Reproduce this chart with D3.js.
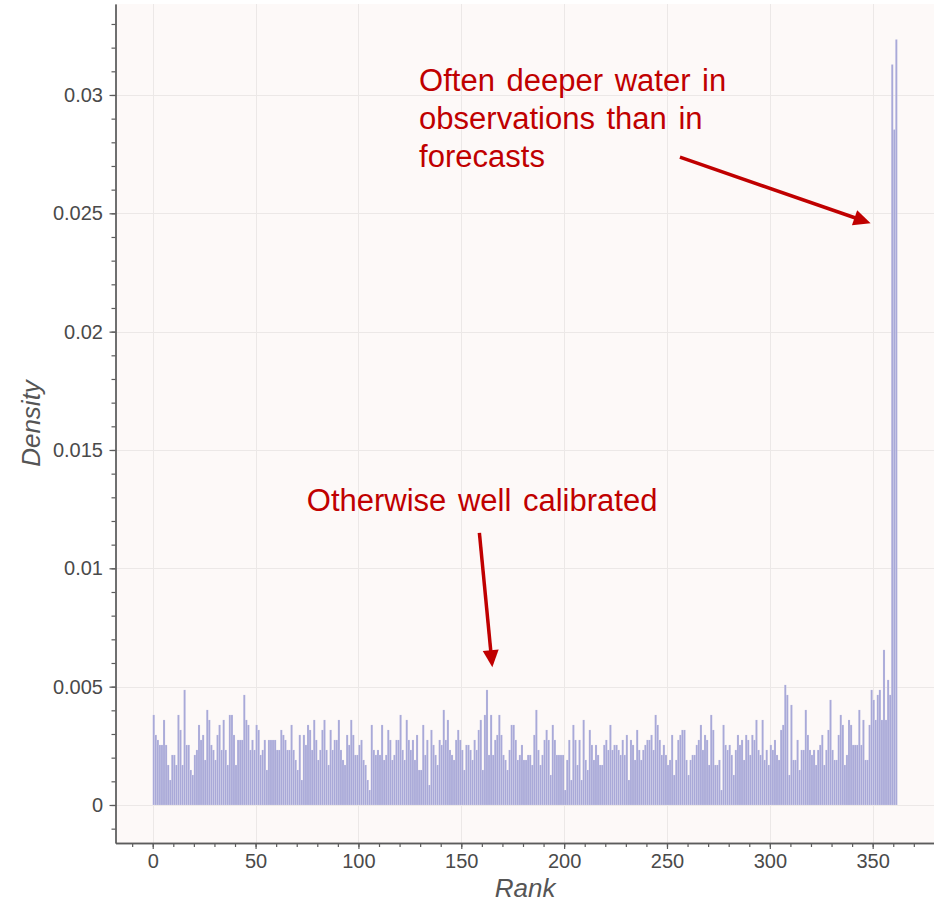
<!DOCTYPE html>
<html>
<head>
<meta charset="utf-8">
<script src="https://cdn.jsdelivr.net/npm/d3@7"></script>
<style>
  html, body { margin: 0; padding: 0; background: #ffffff; }
  svg { display: block; }
  text { font-family: "Liberation Sans", Arial, Helvetica, sans-serif; }
</style>
</head>
<body>
<svg id="chart" width="934" height="905"></svg>
<script>
// Rank histogram: number of cases whose observation falls at each rank
// among the ensemble members (ranks 0..361), normalised to a density.
const sampleSize = 4730;

const rankCounts = [
  18,14,13,12,12,17,12,8,5,10,      // 0-9
  10,8,18,15,8,23,12,12,7,6,        // 10-19
  10,11,16,13,14,9,19,17,12,11,     // 20-29
  9,14,16,11,17,11,8,18,18,14,      // 30-39
  8,13,13,13,22,17,16,11,13,11,     // 40-49
  16,15,10,11,13,7,13,13,13,13,     // 50-59
  11,11,15,14,13,11,11,16,11,9,     // 60-69
  7,14,5,14,12,16,15,11,17,13,      // 70-79
  9,11,15,17,11,8,15,11,13,13,      // 80-89
  17,11,9,8,14,12,17,14,10,10,      // 90-99
  12,13,9,8,5,3,16,11,10,11,        // 100-109
  10,16,9,10,15,13,9,10,13,13,      // 110-119
  18,11,9,17,13,11,13,9,14,7,       // 120-129
  7,16,10,13,4,15,12,10,8,13,       // 130-139
  12,19,13,17,11,10,9,13,15,13,     // 140-149
  11,7,12,12,11,9,13,11,15,17,      // 150-159
  7,18,23,10,18,10,13,14,18,14,     // 160-169
  10,9,7,11,16,16,13,9,10,12,       // 170-179
  9,9,10,10,8,14,19,11,8,10,        // 180-189
  13,15,13,6,16,13,10,10,10,10,     // 190-199
  3,9,13,5,16,13,8,13,5,17,         // 200-209
  9,7,15,12,9,12,10,8,8,12,         // 210-219
  13,11,16,11,12,12,11,10,13,10,    // 220-229
  14,5,13,12,9,15,11,9,11,12,       // 230-239
  13,13,14,11,18,16,13,10,12,10,    // 240-249
  8,9,14,6,9,13,14,15,15,9,         // 250-259
  6,9,10,10,12,13,16,11,14,13,      // 260-269
  8,18,15,8,8,9,3,16,12,11,         // 270-279
  12,10,6,11,14,12,13,9,14,13,      // 280-289
  10,14,13,17,11,10,17,9,11,8,      // 290-299
  12,11,13,10,9,15,16,24,22,6,      // 300-309
  20,9,9,13,7,11,11,19,14,11,       // 310-319
  10,11,8,11,12,14,8,11,15,21,      // 320-329
  11,9,9,14,18,16,8,10,17,16,       // 330-339
  12,12,12,19,12,17,9,9,16,23,      // 340-349
  21,17,22,23,17,31,17,25,22,148,   // 350-359
  135,153                           // 360-361
];

const xTickValues = [0, 50, 100, 150, 200, 250, 300, 350];
const xMinorTicks = d3.range(-10, 380, 10);
const yTickValues = [0, 0.005, 0.01, 0.015, 0.02, 0.025, 0.03];
const yTickLabels = ["0", "0.005", "0.01", "0.015", "0.02", "0.025", "0.03"];
const yMinorTicks = d3.range(-1, 34).map(k => k / 1000);

const xTitle = "Rank";
const yTitle = "Density";

// Annotations anchored in data space: text lines and an arrow (from -> to)
const noteUpper = {
  lines: ["Often deeper water in", "observations than in", "forecasts"],
  at: [129.5, 0.03018],
  arrowFrom: [256.3, 0.02737],
  arrowTo: [349.0, 0.02458]
};
const noteLower = {
  lines: ["Otherwise well calibrated"],
  at: [74.9, 0.01242],
  arrowFrom: [158.8, 0.01150],
  arrowTo: [165.1, 0.00582]
};

const svg = d3.select("#chart");

const frame = { left: 115.5, right: 934.6, top: 4, bottom: 843 };

const x = d3.scaleLinear().domain([-18.1, 380.1]).range([frame.left, frame.right]);
const y = d3.scaleLinear().domain([-0.001606, 0.033844]).range([frame.bottom, frame.top]);

const density = rankCounts.map((c, i) => ({ rank: i, value: c / sampleSize }));

// plot background
svg.append("rect")
  .attr("x", frame.left).attr("y", frame.top)
  .attr("width", 934 - frame.left).attr("height", frame.bottom - frame.top)
  .attr("fill", "#fdf9f8");

// grid
const grid = svg.append("g").attr("stroke", "#ece8e7").attr("stroke-width", 1);
grid.selectAll("line.gx").data(xTickValues).join("line")
  .attr("x1", d => Math.round(x(d)) + 0.5).attr("x2", d => Math.round(x(d)) + 0.5)
  .attr("y1", frame.top).attr("y2", frame.bottom);
grid.selectAll("line.gy").data(yTickValues).join("line")
  .attr("y1", d => Math.round(y(d)) + 0.5).attr("y2", d => Math.round(y(d)) + 0.5)
  .attr("x1", frame.left).attr("x2", 934);

// bars
svg.append("g").selectAll("rect").data(density).join("rect")
  .attr("x", d => x(d.rank))
  .attr("width", d => x(d.rank + 1) - x(d.rank))
  .attr("y", d => y(d.value))
  .attr("height", d => y(0) - y(d.value))
  .attr("fill", "#a9a9d8")
  .attr("stroke", "#ffffff")
  .attr("stroke-opacity", 0.35)
  .attr("stroke-width", 0.4);

// axes
const axisColor = "#5c5c5c";
const labelColor = "#4a4a4a";

function styleAxis(g) {
  g.selectAll("path.domain").attr("stroke", axisColor).attr("stroke-width", 1.3);
  g.selectAll(".tick line").attr("stroke", axisColor).attr("stroke-width", 1.2);
  g.selectAll(".tick text").attr("fill", labelColor)
    .style("font-family", '"Liberation Sans", Arial, sans-serif')
    .style("font-size", "20px");
}

// minor ticks first
svg.append("g")
  .attr("transform", `translate(0,${frame.bottom})`)
  .call(d3.axisBottom(x).tickValues(xMinorTicks).tickSize(4).tickSizeOuter(0).tickFormat(""))
  .call(styleAxis);
svg.append("g")
  .attr("transform", `translate(${frame.left},0)`)
  .call(d3.axisLeft(y).tickValues(yMinorTicks).tickSize(4).tickSizeOuter(0).tickFormat(""))
  .call(styleAxis);

svg.append("g")
  .attr("transform", `translate(0,${frame.bottom})`)
  .call(d3.axisBottom(x).tickValues(xTickValues).tickSize(6).tickSizeOuter(0).tickPadding(5)
    .tickFormat(d => String(d)))
  .call(styleAxis);
svg.append("g")
  .attr("transform", `translate(${frame.left},0)`)
  .call(d3.axisLeft(y).tickValues(yTickValues).tickSize(6).tickSizeOuter(0).tickPadding(6.5)
    .tickFormat((d, i) => yTickLabels[i]))
  .call(styleAxis);

// axis titles
svg.append("text")
  .attr("x", (frame.left + frame.right) / 2).attr("y", 897)
  .attr("text-anchor", "middle")
  .attr("fill", "#555555")
  .style("font-size", "26px").style("font-style", "italic")
  .text(xTitle);
svg.append("text")
  .attr("transform", `translate(40,${(frame.top + frame.bottom) / 2}) rotate(-90)`)
  .attr("text-anchor", "middle")
  .attr("fill", "#555555")
  .style("font-size", "26px").style("font-style", "italic")
  .text(yTitle);

// annotations
const noteColor = "#c00000";

function drawNote(note) {
  const t = svg.append("text")
    .attr("x", x(note.at[0])).attr("y", y(note.at[1]))
    .attr("fill", noteColor)
    .style("font-size", "31px")
    .style("word-spacing", "3px");
  note.lines.forEach((line, i) => {
    t.append("tspan")
      .attr("x", x(note.at[0]))
      .attr("dy", i === 0 ? 0 : 38)
      .text(line);
  });

  const x0 = x(note.arrowFrom[0]), y0 = y(note.arrowFrom[1]);
  const x1 = x(note.arrowTo[0]), y1 = y(note.arrowTo[1]);
  const len = Math.hypot(x1 - x0, y1 - y0);
  const ux = (x1 - x0) / len, uy = (y1 - y0) / len;
  const headLen = 17, headHalf = 8;
  const bx = x1 - ux * headLen, by = y1 - uy * headLen;

  svg.append("line")
    .attr("x1", x0).attr("y1", y0).attr("x2", bx + ux).attr("y2", by + uy)
    .attr("stroke", noteColor).attr("stroke-width", 3.5);
  svg.append("path")
    .attr("d", `M${x1},${y1} L${bx - uy * headHalf},${by + ux * headHalf} L${bx + uy * headHalf},${by - ux * headHalf} Z`)
    .attr("fill", noteColor);
}

drawNote(noteUpper);
drawNote(noteLower);
</script>
</body>
</html>
